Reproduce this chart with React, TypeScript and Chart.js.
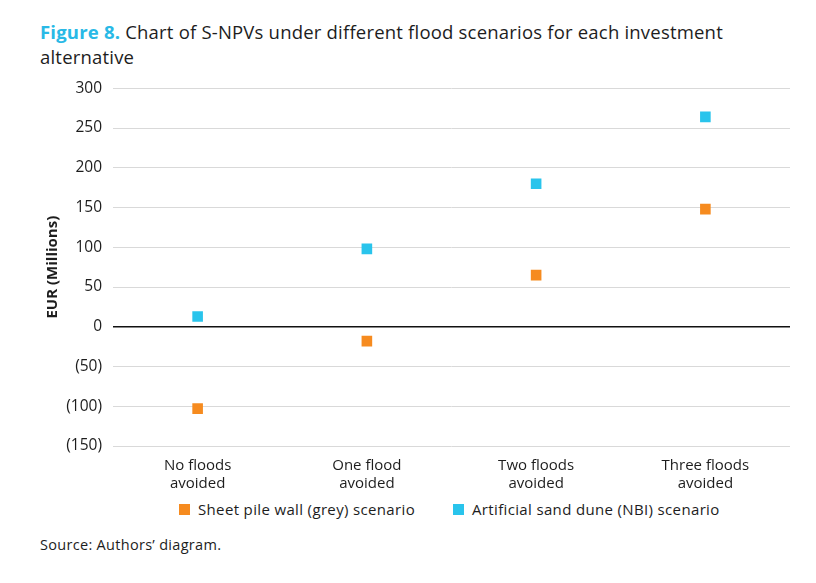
import React, { useEffect, useRef } from "react";
import { Chart, registerables } from "chart.js";

Chart.register(...registerables);

const categories: string[][] = [
  ["No floods", "avoided"],
  ["One flood", "avoided"],
  ["Two floods", "avoided"],
  ["Three floods", "avoided"],
];
const greyValues = [-103, -18, 65, 148];
const nbiValues = [13, 98, 180, 264];
const greyLabel = "Sheet pile wall (grey) scenario";
const nbiLabel = "Artificial sand dune (NBI) scenario";
const yMin = -150;
const yMax = 300;
const yStep = 50;

const ORANGE = "#F68B1F";
const BLUE = "#29C4EC";
const TEXT = "#1d1d1d";
const FONT = "'Open Sans', sans-serif";

export default function App() {
  const ref = useRef<HTMLCanvasElement | null>(null);

  useEffect(() => {
    document.body.style.margin = "0";
    const canvas = ref.current;
    if (!canvas) return;
    const chart = new Chart(canvas, {
      type: "line",
      data: {
        labels: categories,
        datasets: [
          {
            label: greyLabel,
            data: greyValues,
            showLine: false,
            pointStyle: "rect",
            pointRadius: 7.5,
            pointHoverRadius: 7.5,
            pointBorderWidth: 0,
            pointBackgroundColor: ORANGE,
            backgroundColor: ORANGE,
            borderColor: ORANGE,
          },
          {
            label: nbiLabel,
            data: nbiValues,
            showLine: false,
            pointStyle: "rect",
            pointRadius: 7.5,
            pointHoverRadius: 7.5,
            pointBorderWidth: 0,
            pointBackgroundColor: BLUE,
            backgroundColor: BLUE,
            borderColor: BLUE,
          },
        ],
      },
      options: {
        responsive: false,
        animation: false,
        layout: { padding: { top: 13, right: 26, left: 0, bottom: 0 } },
        plugins: {
          legend: { display: false },
          tooltip: { enabled: false },
          title: { display: false },
        },
        scales: {
          x: {
            offset: true,
            grid: { display: false },
            border: { display: false },
            ticks: {
              color: TEXT,
              padding: 3,
              font: { family: FONT, size: 15, lineHeight: 1.2 },
              maxRotation: 0,
            },
            afterFit: (scale: any) => {
              scale.height = 52;
            },
          },
          y: {
            min: yMin,
            max: yMax,
            border: { display: false },
            grid: {
              drawTicks: false,
              color: (ctx: any) => (ctx.tick && ctx.tick.value === 0 ? "#111" : "#d9d9d9"),
              lineWidth: (ctx: any) => (ctx.tick && ctx.tick.value === 0 ? 1.6 : 1),
            },
            ticks: {
              stepSize: yStep,
              padding: 11,
              color: TEXT,
              font: { family: FONT, size: 15.5 },
              callback: (v: any) => (Number(v) < 0 ? `(${-Number(v)})` : `${v}`),
            },
            title: {
              display: true,
              text: "EUR (Millions)",
              color: TEXT,
              font: { family: FONT, size: 15, weight: "bold" },
              padding: { top: 44, bottom: 0 },
            },
            afterFit: (scale: any) => {
              scale.width = 113;
            },
          },
        },
      },
    });
    return () => chart.destroy();
  }, []);

  const legendItem = (color: string, text: string, left: number) => (
    <div
      style={{
        position: "absolute",
        left,
        top: 500,
        height: 18,
        display: "flex",
        alignItems: "center",
        fontFamily: FONT,
        fontSize: 15,
        letterSpacing: "0.35px",
        color: TEXT,
        whiteSpace: "nowrap",
      }}
    >
      <span style={{ display: "inline-block", width: 11, height: 11, background: color, marginRight: 8 }} />
      <span>{text}</span>
    </div>
  );

  return (
    <div style={{ position: "relative", width: 816, height: 583, background: "#fff", overflow: "hidden" }}>
      <div
        style={{
          position: "absolute",
          left: 40,
          top: 19,
          width: 720,
          fontFamily: FONT,
          fontSize: 18.5,
          letterSpacing: "0.2px",
          lineHeight: "25px",
          color: TEXT,
        }}
      >
        <span style={{ color: "#29B9E6", fontWeight: 700 }}>Figure 8.</span> Chart of S-NPVs under different flood
        scenarios for each investment alternative
      </div>
      <canvas
        ref={ref}
        width={816}
        height={430}
        style={{ position: "absolute", left: 0, top: 68, width: 816, height: 430 }}
      />
      {legendItem(ORANGE, greyLabel, 179)}
      {legendItem(BLUE, nbiLabel, 453)}
      <div
        style={{
          position: "absolute",
          left: 40,
          top: 535,
          fontFamily: FONT,
          fontSize: 14.5,
          letterSpacing: "0.3px",
          color: TEXT,
        }}
      >
        Source: Authors’ diagram.
      </div>
    </div>
  );
}
